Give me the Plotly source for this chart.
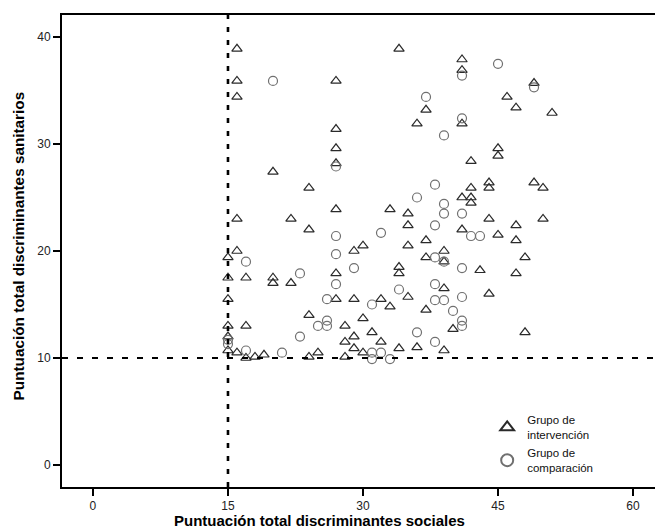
import plotly.graph_objects as go

# Grupo de intervención (triangles)
int_x = [16, 34, 41, 41, 16, 27, 49, 16, 46, 47, 37, 51, 36, 41, 27, 27, 45, 45, 42, 27,
         20, 44, 49, 42, 44, 50, 24, 41, 42, 42, 27, 33, 35, 16, 22, 44, 50, 35, 47, 24,
         41, 45, 37, 47, 30, 35, 16, 29, 39, 15, 37, 48, 39, 43, 34, 34, 27, 47, 15, 17,
         20, 20, 22, 39, 44, 35, 15, 27, 29, 32, 33, 37, 24, 30, 15, 17, 28, 40, 31, 48,
         15, 29, 28, 32, 29, 34, 36, 15, 39, 16, 25, 30, 17, 18, 19, 24, 28]
int_y = [38.9, 38.9, 37.9, 36.9, 35.9, 35.9, 35.7, 34.4, 34.4, 33.4, 33.2, 32.9, 31.9, 31.9,
         31.4, 29.6, 29.6, 28.9, 28.4, 28.2, 27.4, 26.4, 26.4, 25.9, 25.9, 25.9, 25.9, 25.0,
         25.0, 24.5, 23.9, 23.9, 23.5, 23.0, 23.0, 23.0, 23.0, 22.4, 22.4, 22.0, 22.0, 21.5,
         21.0, 21.0, 20.5, 20.5, 20.0, 20.0, 20.0, 19.4, 19.4, 19.4, 19.0, 18.2, 18.5, 17.9,
         17.9, 17.9, 17.5, 17.5, 17.5, 17.0, 17.0, 16.5, 16.0, 15.7, 15.5, 15.5, 15.5, 15.5,
         14.8, 14.5, 14.0, 13.7, 13.0, 13.0, 13.0, 12.7, 12.4, 12.4, 12.0, 12.0, 11.5, 11.5,
         10.9, 10.9, 11.0, 10.7, 10.7, 10.5, 10.5, 10.5, 10.0, 10.1, 10.3, 10.1, 10.1]

# Grupo de comparación (circles)
comp_x = [20, 45, 41, 49, 37, 41, 39, 27, 38, 36, 39, 39, 41, 38, 32, 27, 42, 43, 27, 38,
          39, 17, 29, 41, 23, 27, 38, 34, 41, 26, 38, 39, 31, 40, 26, 25, 26, 41, 41, 23,
          36, 38, 15, 15, 17, 21, 31, 32, 31, 33]
comp_y = [35.9, 37.5, 36.4, 35.3, 34.4, 32.4, 30.8, 27.9, 26.2, 25.0, 24.4, 23.5, 23.5, 22.4,
          21.7, 21.4, 21.4, 21.4, 19.7, 19.4, 19.0, 19.0, 18.4, 18.4, 17.9, 16.9, 16.9, 16.4,
          15.7, 15.5, 15.4, 15.4, 15.0, 14.4, 13.5, 13.0, 13.0, 13.5, 13.0, 12.0, 12.4, 11.5,
          11.7, 11.3, 10.7, 10.5, 10.5, 10.5, 9.9, 9.9]

x_ticks = [0, 15, 30, 45, 60]
y_ticks = [0, 10, 20, 30, 40]
cut_x = 15
cut_y = 10

font_family = "Liberation Sans, Arial, sans-serif"

fig = go.Figure()
fig.add_trace(go.Scatter(
    x=int_x, y=int_y, mode="markers", name="Grupo de<br>intervención",
    marker=dict(symbol="triangle-up-open", size=9, color="#2a2a2a",
                line=dict(width=1.2, color="#2a2a2a"))))
fig.add_trace(go.Scatter(
    x=comp_x, y=comp_y, mode="markers", name="Grupo de<br>comparación",
    marker=dict(symbol="circle-open", size=9, color="#707070",
                line=dict(width=1.2, color="#707070"))))

fig.add_shape(type="line", xref="x", yref="paper", x0=cut_x, x1=cut_x, y0=0, y1=1,
              line=dict(color="black", width=2.6, dash="5px,8px"))
fig.add_shape(type="line", xref="paper", yref="y", x0=0, x1=1, y0=cut_y, y1=cut_y,
              line=dict(color="black", width=1.8, dash="6px,9px"))

fig.add_annotation(text="<b>Puntuación total discriminantes sociales</b>",
                   xref="paper", yref="paper", x=0.435, y=-0.072,
                   xanchor="center", yanchor="middle", showarrow=False,
                   font=dict(family=font_family, size=15, color="black"))
fig.add_annotation(text="<b>Puntuación total discriminantes sanitarios</b>",
                   xref="paper", yref="paper", x=-0.074, y=0.51, textangle=-90,
                   xanchor="center", yanchor="middle", showarrow=False,
                   font=dict(family=font_family, size=15.3, color="black"))

fig.update_layout(
    width=655, height=532,
    margin=dict(l=62, r=0, t=15, b=45),
    paper_bgcolor="white", plot_bgcolor="white",
    font=dict(family=font_family, size=12, color="black"),
    showlegend=True,
    legend=dict(x=0.717, y=0.172, xanchor="left", yanchor="top",
                bgcolor="rgba(0,0,0,0)", font=dict(size=11.5, color="#111"),
                itemsizing="constant", itemwidth=30, tracegroupgap=0),
    xaxis=dict(range=[-3.44, 62.44], tickvals=x_ticks, showgrid=False, zeroline=False,
               showline=True, linecolor="black", linewidth=2, mirror=True,
               ticks="outside", ticklen=7, tickwidth=2, tickcolor="black",
               tickfont=dict(size=12, color="#222")),
    yaxis=dict(range=[-2.06, 42.06], tickvals=y_ticks, showgrid=False, zeroline=False,
               showline=True, linecolor="black", linewidth=2, mirror=False,
               ticks="outside", ticklen=7, tickwidth=1.5, tickcolor="black",
               tickfont=dict(size=12, color="#222")),
)

fig.write_html("out.html", config={"displayModeBar": False},
               post_script="document.body.style.margin='0';")
